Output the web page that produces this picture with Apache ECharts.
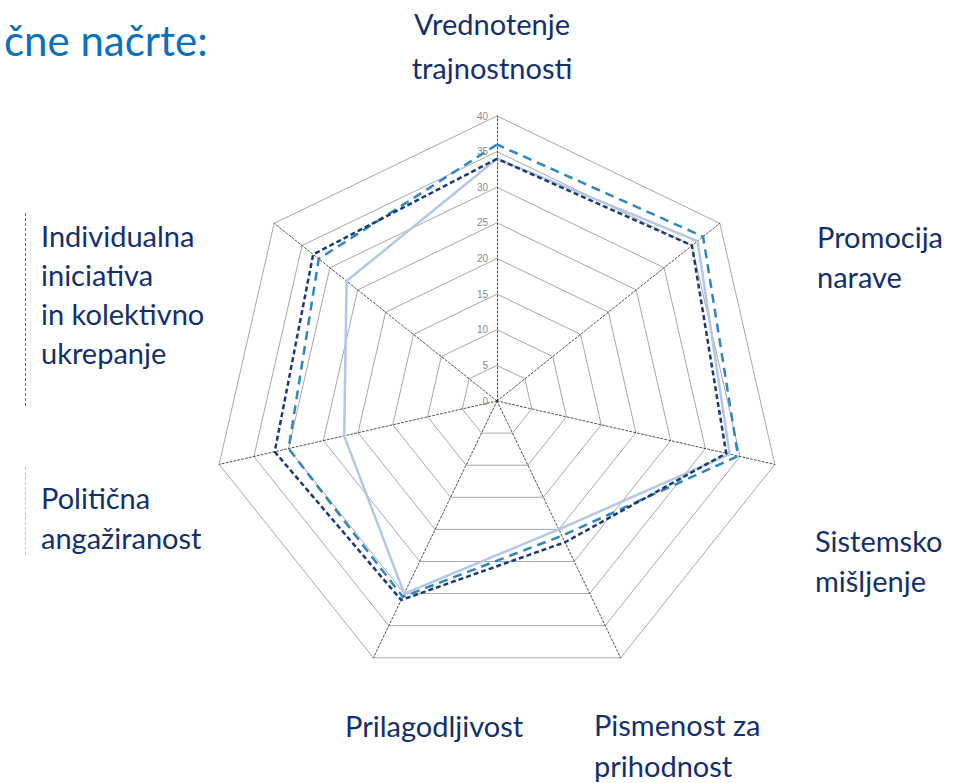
<!DOCTYPE html>
<html>
<head>
<meta charset="utf-8">
<script src="https://cdn.jsdelivr.net/npm/echarts@6/dist/echarts.min.js"></script>
<style>
  html, body { margin: 0; padding: 0; background: #fff; }
  #chart { width: 971px; height: 783px; }
</style>
</head>
<body>
<div id="chart"></div>
<script>
// axes in clockwise order starting at the top
var axisNames = [
    'Vrednotenje trajnostnosti',
    'Promocija narave',
    'Sistemsko mišljenje',
    'Pismenost za prihodnost',
    'Prilagodljivost',
    'Politična angažiranost',
    'Individualna iniciativa in kolektivno ukrepanje'
];
var seriesDark   = [34, 35, 33, 22, 31, 32, 33];
var seriesMedium = [36, 37, 34.7, 21, 30.5, 30, 32];
var seriesLight  = [34, 36, 33.5, 20, 30, 22, 27];
var axisMax = 40;
var tickStep = 5;

// echarts lays radar axes counter-clockwise, so keep the first and reverse the rest
function clockwise(arr) {
    return [arr[0]].concat(arr.slice(1).reverse());
}

var navy = '#14306b';
var labelFont = 'Lato, "Noto Sans", sans-serif';

function label(x, y, text, align, lineHeight) {
    return {
        type: 'text',
        x: x, y: y,
        style: {
            text: text,
            fill: navy,
            font: '29px ' + labelFont,
            align: align || 'left',
            verticalAlign: 'middle',
            lineHeight: lineHeight || 39
        }
    };
}

var indicators = clockwise(axisNames).map(function (name, i) {
    var ind = { name: name, max: axisMax, min: 0 };
    if (i === 0) {
        ind.axisLabel = { show: true };
    }
    return ind;
});

var chart = echarts.init(document.getElementById('chart'), null, { renderer: 'svg' });
chart.setOption({
    animation: false,
    backgroundColor: '#fff',
    radar: {
        center: [497, 401],
        radius: 285,
        shape: 'polygon',
        splitNumber: axisMax / tickStep,
        indicator: indicators,
        axisName: { show: false },
        axisLine: {
            lineStyle: { color: '#222', width: 0.8, type: [2, 2] }
        },
        splitLine: {
            lineStyle: { color: '#a8a8a8', width: 1 }
        },
        splitArea: { show: false },
        axisTick: { show: false },
        axisLabel: {
            show: false,
            color: '#8a8a8a',
            fontSize: 10,
            fontFamily: 'Liberation Sans, sans-serif',
            margin: 9
        }
    },
    series: [{
        type: 'radar',
        symbol: 'none',
        data: [
            {
                name: 'light',
                value: clockwise(seriesLight),
                lineStyle: { color: '#b4c7e7', width: 2.5, type: 'solid' }
            },
            {
                name: 'medium',
                value: clockwise(seriesMedium),
                lineStyle: { color: '#2f87be', width: 2.5, type: [9, 6] }
            },
            {
                name: 'dark',
                value: clockwise(seriesDark),
                lineStyle: { color: '#1b3a75', width: 2.5, type: [5, 3] }
            }
        ]
    }],
    graphic: [
        {
            type: 'text', x: 4, y: 40,
            style: {
                text: 'čne načrte:',
                fill: '#0a70c0',
                font: '42px ' + labelFont,
                verticalAlign: 'middle'
            }
        },
        label(492, 45, 'Vrednotenje\ntrajnostnosti', 'center', 44),
        label(817, 256, 'Promocija\nnarave', 'left', 40),
        label(815, 560, 'Sistemsko\nmišljenje', 'left', 40),
        label(594, 745, 'Pismenost za\nprihodnost', 'left', 41),
        label(345, 725, 'Prilagodljivost', 'left', 40),
        label(41, 517, 'Politična\nangažiranost', 'left', 40),
        label(41, 294, 'Individualna\niniciativa\nin kolektivno\nukrepanje', 'left', 39),
        {
            type: 'line',
            shape: { x1: 25.5, y1: 213, x2: 25.5, y2: 408 },
            style: { stroke: '#5a6690', lineWidth: 1, lineDash: [3, 2] }
        },
        {
            type: 'line',
            shape: { x1: 25.5, y1: 467, x2: 25.5, y2: 555 },
            style: { stroke: '#c4c4c4', lineWidth: 1, lineDash: [3, 2] }
        }
    ]
});
</script>
</body>
</html>
